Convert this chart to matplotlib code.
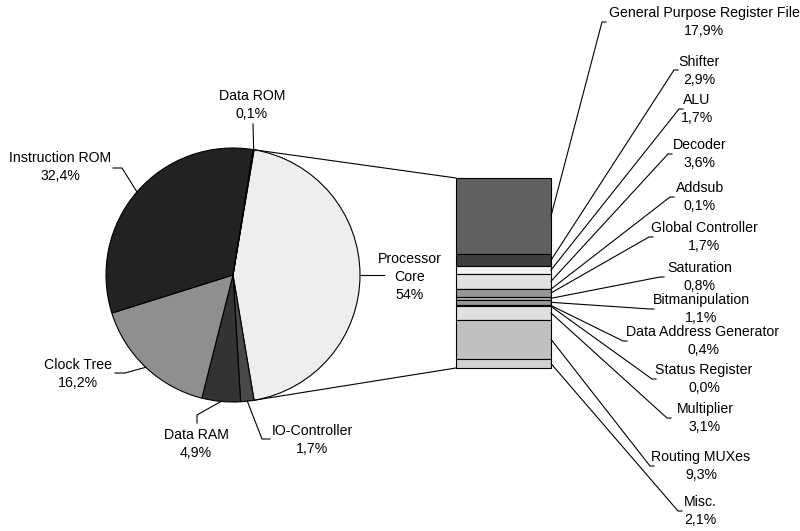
import numpy as np
import matplotlib.pyplot as plt

plt.rcParams['font.family'] = ['Liberation Sans', 'DejaVu Sans']

# main pie (processor core is the sum of its parts)
core_name = 'Processor'
core_name2 = 'Core'
core_pct = '54%'
pie_names = ['IO-Controller', 'Data RAM', 'Clock Tree', 'Instruction ROM', 'Data ROM']
pie_values = [1.7, 4.9, 16.2, 32.4, 0.1]

# breakdown of the processor core
core_names = ['General Purpose Register File', 'Shifter', 'ALU', 'Decoder', 'Addsub',
              'Global Controller', 'Saturation', 'Bitmanipulation', 'Data Address Generator',
              'Status Register', 'Multiplier', 'Routing MUXes', 'Misc.']
core_values = [17.9, 2.9, 1.7, 3.6, 0.1, 1.7, 0.8, 1.1, 0.4, 0.0, 3.1, 9.3, 2.1]

pie_colors = ['#eeeeee', '#484848', '#333333', '#8f8f8f', '#222222', '#bdbdbd']
bar_colors = ['#606060', '#3f3f3f', '#f2f2f2', '#e0e0e0', '#a0a0a0', '#969696', '#b0b0b0',
              '#9a9a9a', '#707070', '#000000', '#e0e0e0', '#c0c0c0', '#d2d2d2']

W, H = 800, 531
FS = 10.2


def pct(v):
    return ('%.1f%%' % v).replace('.', ',')


def iy(y):
    # image row -> axes y
    return H - y


fig = plt.figure(figsize=(8, 5.31), dpi=100)
ax = fig.add_axes([0, 0, 1, 1])

core_total = sum(core_values)
values = [core_total] + pie_values
cx, cy, r = 233, iy(275), 127
start = core_total / sum(values) * 180
wedges, _ = ax.pie(values, colors=pie_colors, center=(cx, cy), radius=r,
                   startangle=start, counterclock=False,
                   wedgeprops=dict(edgecolor='black', linewidth=0.8))

# stacked bar
bar_left, bar_w = 456, 95
bar_top, bar_bot = iy(178), iy(368)
scale = (bar_top - bar_bot) / core_total
heights = np.array(core_values) * scale
tops = bar_top - np.concatenate([[0], np.cumsum(heights)[:-1]])
bottoms = tops - heights
n = len(core_values)
ax.bar([bar_left] * n, heights, width=bar_w, bottom=bottoms, align='edge',
       color=bar_colors, edgecolor='black', linewidth=0.8)

# connector lines pie -> bar
w0 = wedges[0]
for th, yb in [(w0.theta2, bar_top), (w0.theta1, bar_bot)]:
    t = np.radians(th)
    ax.plot([cx + r * np.cos(t), bar_left], [cy + r * np.sin(t), yb], color='black', lw=0.8)


def edge_point(w):
    t = np.radians((w.theta1 + w.theta2) / 2)
    return cx + r * np.cos(t), cy + r * np.sin(t)


def label(x, y1, y2, a, b):
    ax.text(x, iy(y1), a, ha='center', va='center', fontsize=FS)
    ax.text(x, iy(y2), b, ha='center', va='center', fontsize=FS)


# pie labels: text centre, first/second line rows, leader bend points
pie_lab = [
    (312, 431, 449, [(262, 439), (270, 439)]),
    (196, 435, 453, [(197, 415), (197, 423)]),
    (78, 365, 383, [(125, 373), (115, 373)]),
    (60, 158, 176, [(122, 168), (113, 168)]),
    (252, 96, 114, [(253, 124)]),
]
for w, name, v, (x, y1, y2, pts) in zip(wedges[1:], pie_names, pie_values, pie_lab):
    label(x, y1, y2, name, pct(v))
    ex, ey = edge_point(w)
    xs = [ex] + [p[0] for p in pts]
    ys = [ey] + [iy(p[1]) for p in pts]
    ax.plot(xs, ys, color='black', lw=0.8)

ex, ey = edge_point(wedges[0])
ax.plot([ex, 384], [ey, iy(275)], color='black', lw=0.8)
ax.text(410, iy(259), core_name, ha='center', va='center', fontsize=FS)
ax.text(410, iy(277), core_name2, ha='center', va='center', fontsize=FS)
ax.text(410, iy(295), core_pct, ha='center', va='center', fontsize=FS)

# bar labels: text centre x, rows, leader end
bar_lab = [
    (704, 13, 31, (602, 22)),
    (699, 62, 80, (674, 70)),
    (697, 100, 118, (679, 109)),
    (700, 145, 163, (668, 154)),
    (700, 188, 206, (670, 197)),
    (704, 228, 246, (649, 237)),
    (700, 268, 286, (660, 277)),
    (701, 300, 318, (650, 309)),
    (703, 332, 350, (623, 341)),
    (704, 370, 388, (652, 379)),
    (705, 409, 427, (667, 418)),
    (701, 457, 475, (650, 466)),
    (700, 502, 520, (678, 511)),
]
bar_right = bar_left + bar_w
for name, v, t, h, (x, y1, y2, (lx, ly)) in zip(core_names, core_values, tops, heights, bar_lab):
    label(x, y1, y2, name, pct(v))
    ax.plot([bar_right, lx, lx + 4], [t - h / 2, iy(ly), iy(ly)], color='black', lw=0.8)

ax.set_xlim(0, W)
ax.set_ylim(0, H)
ax.set_aspect('equal')
ax.axis('off')

fig.savefig('out.png', dpi=100, facecolor='white')
